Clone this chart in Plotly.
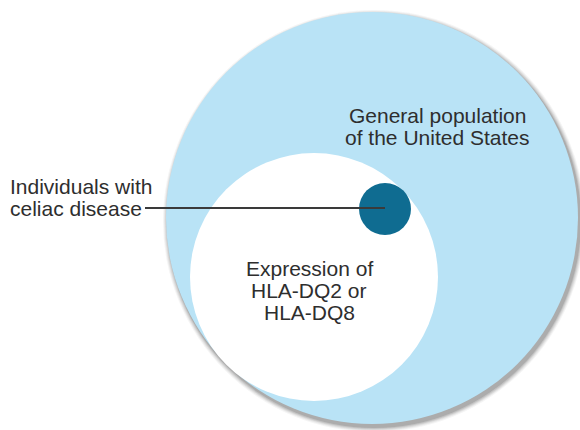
import plotly.graph_objects as go

# Circle data: name, centre x, centre y, radius (in image units), fill
circle_names = ["General population", "HLA-DQ2/DQ8 expression", "Celiac disease"]
circle_cx = [372, 314, 385]
circle_cy = [218, 277, 209]
circle_r = [206, 124, 26]
circle_colors = ["#b9e3f6", "#ffffff", "#0f6c91"]

label_general = ["General population", "of the United States"]
label_hla = ["Expression of", "HLA-DQ2 or", "HLA-DQ8"]
label_celiac = ["Individuals with", "celiac disease"]

W, H = 580, 430
FONT = "Liberation Sans, Arial, Helvetica, sans-serif"
TXT = "#2e2e2e"

fig = go.Figure()
fig.add_trace(go.Scatter(x=[0, W], y=[0, H], mode="markers",
                         marker=dict(opacity=0), hoverinfo="skip", showlegend=False))

shapes = []
# soft drop shadow for the big circle
cx, cy, r = circle_cx[0], circle_cy[0], circle_r[0]
for k, op in [(5, 0.05), (4, 0.07), (3, 0.09), (2, 0.12), (1, 0.17)]:
    shapes.append(dict(type="circle", xref="x", yref="y",
                       x0=cx + 2 - r - k, x1=cx + 2 + r + k,
                       y0=cy + 3 - r - k, y1=cy + 3 + r + k,
                       fillcolor=f"rgba(60,60,60,{op})", line=dict(width=0), layer="below"))
for cx, cy, r, col in zip(circle_cx, circle_cy, circle_r, circle_colors):
    shapes.append(dict(type="circle", xref="x", yref="y",
                       x0=cx - r, x1=cx + r, y0=cy - r, y1=cy + r,
                       fillcolor=col, line=dict(width=0), layer="below"))
# leader line from label to the celiac circle
shapes.append(dict(type="line", xref="x", yref="y",
                   x0=145, x1=circle_cx[2], y0=208, y1=208,
                   line=dict(color="#3a3a3a", width=2)))

annotations = []
def add_lines(lines, x, y0, dy, anchor):
    for i, t in enumerate(lines):
        annotations.append(dict(x=x, y=y0 + i * dy, xref="x", yref="y", text=t,
                                showarrow=False, xanchor=anchor, yanchor="middle",
                                font=dict(family=FONT, size=21, color=TXT)))

add_lines(label_general, 437, 115, 22, "center")
add_lines(label_hla, 309, 268, 22, "center")
add_lines(label_celiac, 8, 186, 22, "left")

fig.update_layout(
    width=W, height=H, margin=dict(l=0, r=0, t=0, b=0),
    paper_bgcolor="white", plot_bgcolor="white",
    xaxis=dict(range=[0, W], visible=False, fixedrange=True),
    yaxis=dict(range=[H, 0], visible=False, fixedrange=True),
    shapes=shapes, annotations=annotations, showlegend=False,
)
fig.write_html("out.html", config=dict(displayModeBar=False),
               post_script="document.body.style.margin='0';document.body.style.overflow='hidden';")
